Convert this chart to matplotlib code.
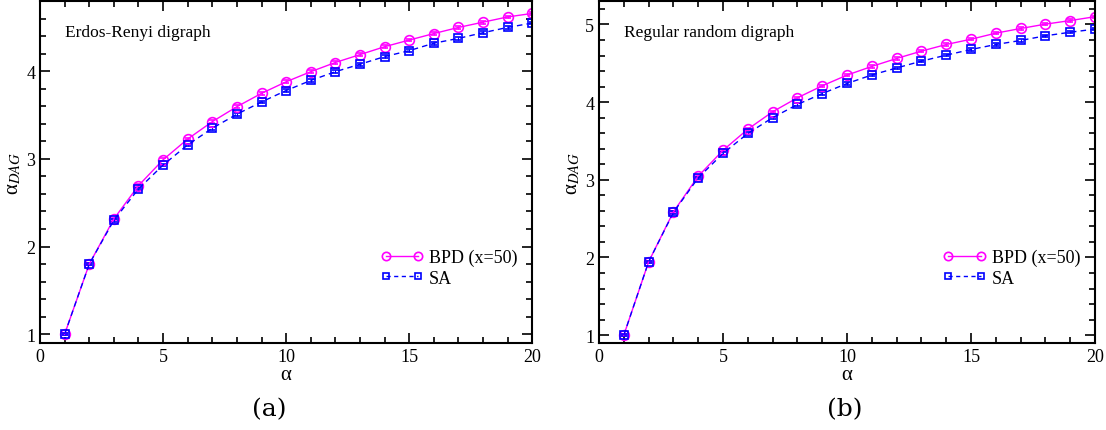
import matplotlib
matplotlib.use("Agg")
import matplotlib.pyplot as plt
from matplotlib.lines import Line2D
from matplotlib.ticker import MultipleLocator

# alpha values (x axis)
alpha = list(range(1, 21))

# Erdos-Renyi digraph
er_bpd = [1.00, 1.80, 2.315, 2.695, 2.99, 3.227, 3.425, 3.596, 3.748, 3.88,
          3.995, 4.10, 4.19, 4.28, 4.356, 4.43, 4.50, 4.56, 4.62, 4.66]
er_sa = [1.00, 1.80, 2.30, 2.657, 2.93, 3.16, 3.35, 3.51, 3.65, 3.78,
         3.895, 3.995, 4.08, 4.167, 4.235, 4.32, 4.375, 4.44, 4.50, 4.55]

# Regular random digraph
rr_bpd = [1.00, 1.944, 2.588, 3.047, 3.38, 3.652, 3.876, 4.056, 4.21, 4.348,
          4.46, 4.562, 4.657, 4.742, 4.81, 4.888, 4.948, 5.004, 5.05, 5.10]
rr_sa = [1.00, 1.944, 2.58, 3.026, 3.34, 3.597, 3.80, 3.97, 4.11, 4.24,
         4.35, 4.44, 4.528, 4.605, 4.678, 4.742, 4.794, 4.854, 4.90, 4.94]

titles = ["Erdos-Renyi digraph", "Regular random digraph"]
panel_tags = ["(a)", "(b)"]
labels = ["BPD (x=50)", "SA"]
y_max = [4.8, 5.3]

plt.rcParams["font.family"] = ["Liberation Serif", "DejaVu Serif"]
plt.rcParams["mathtext.fontset"] = "stix"

MAG = "#ff00ff"
BLU = "#0000ff"


def draw(ax, bpd, sa, title, ytop):
    ax.errorbar(alpha, bpd, yerr=0.015, color=MAG, lw=1.0, ls="-",
                marker="o", ms=7, mfc="none", mew=1.2, capsize=2,
                elinewidth=0.8)
    ax.errorbar(alpha, sa, yerr=0.015, color=BLU, lw=1.0, ls="--",
                dashes=(4, 3), marker="s", ms=6, mfc="none", mew=1.2,
                capsize=2, elinewidth=0.8)
    ax.set_xlim(0, 20)
    ax.set_ylim(0.9, ytop)
    ax.xaxis.set_major_locator(MultipleLocator(5))
    ax.xaxis.set_minor_locator(MultipleLocator(1))
    ax.yaxis.set_major_locator(MultipleLocator(1))
    ax.yaxis.set_minor_locator(MultipleLocator(0.2))
    ax.tick_params(which="both", direction="in", top=True, right=True,
                   labelsize=13, width=1.2)
    ax.tick_params(which="major", length=7)
    ax.tick_params(which="minor", length=4)
    for s in ax.spines.values():
        s.set_linewidth(1.5)
    ax.set_xlabel("α", fontsize=15, labelpad=0)
    ax.set_ylabel(r"α$_{DAG}$", fontsize=15, labelpad=2)
    ax.text(0.05, 0.91, title, transform=ax.transAxes, fontsize=12.5,
            va="center", ha="left")
    handles = [
        Line2D([], [], color=MAG, lw=1.0, ls="-", marker="o", ms=6,
               mfc="none", mew=1.2),
        Line2D([], [], color=BLU, lw=1.0, ls="--", dashes=(3, 2.5),
               marker="s", ms=5, mfc="none", mew=1.2),
    ]
    ax.legend(handles, labels, loc="center right",
              bbox_to_anchor=(0.97, 0.22), frameon=False, fontsize=13,
              handlelength=2.4, handletextpad=0.3, labelspacing=0.2,
              numpoints=2, borderpad=0, borderaxespad=0)


fig = plt.figure(figsize=(11.06, 4.31), dpi=100)
ax1 = fig.add_axes([0.0362, 0.202, 0.445, 0.793])
ax2 = fig.add_axes([0.5416, 0.202, 0.4485, 0.793])

draw(ax1, er_bpd, er_sa, titles[0], y_max[0])
draw(ax2, rr_bpd, rr_sa, titles[1], y_max[1])

fig.text(0.2435, 0.05, panel_tags[0], ha="center", va="center", fontsize=18,
         family="DejaVu Serif")
fig.text(0.764, 0.05, panel_tags[1], ha="center", va="center", fontsize=18,
         family="DejaVu Serif")

fig.savefig("out.png", dpi=100)
